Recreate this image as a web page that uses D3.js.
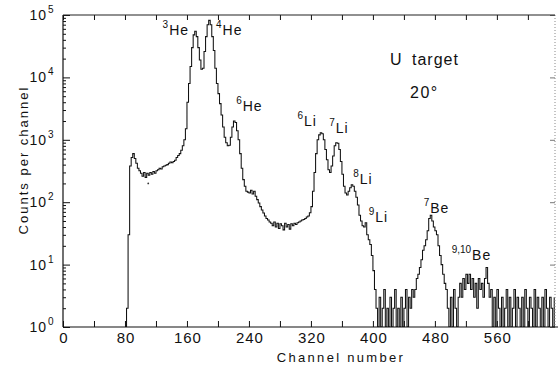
<!DOCTYPE html>
<html>
<head>
<meta charset="utf-8">
<script src="https://cdn.jsdelivr.net/npm/d3@7"></script>
<style>
  body { margin: 0; background: #fff; }
  svg text { font-family: "Liberation Sans", "DejaVu Sans", sans-serif; fill: #111; }
</style>
</head>
<body>
<svg id="chart" width="558" height="369"></svg>
<script>
// spectrum: counts per 2-channel bin, starting at channel 80
var chStart = 80, chStep = 2;
var counts = [
  0, 2, 30, 380, 520, 600, 500, 420, 350, 320,
  290, 260, 300, 250, 290, 270, 300, 280, 310, 290,
  320, 330, 350, 340, 370, 380, 390, 400, 420, 440,
  430, 450, 470, 520, 560, 600, 680, 800, 1000, 1500,
  4000, 8000, 15000, 30000, 48000, 55000, 45000, 30000, 19000, 13500,
  14000, 26000, 45000, 70000, 82000, 70000, 45000, 27000, 14000, 8000,
  5500, 3800, 2500, 1600, 1100, 900, 800, 820, 1100, 1600,
  2000, 1900, 1400, 1000, 600, 350, 230, 180, 150, 145,
  140, 155, 135, 150, 125, 110, 97, 85, 75, 67,
  60, 55, 52, 48, 46, 42, 48, 40, 46, 38,
  45, 42, 36, 46, 40, 44, 37, 45, 42, 46,
  44, 47, 48, 50, 52, 53, 55, 58, 60, 68,
  85, 150, 300, 600, 1000, 1200, 1300, 1250, 1000, 700,
  480, 330, 300, 380, 550, 800, 900, 880, 700, 450,
  280, 180, 140, 130, 150, 170, 190, 180, 150, 120,
  90, 62, 50, 42, 40, 47, 30, 25, 21, 14,
  8, 4, 2, 1, 3, 0, 2, 4, 1, 2,
  0, 3, 1, 2, 4, 0, 2, 1, 3, 0,
  2, 4, 1, 3, 2, 4, 3, 4, 6, 7,
  9, 12, 17, 20, 25, 35, 55, 62, 50, 40,
  35, 30, 20, 14, 10, 7, 5, 4, 2, 0,
  3, 1, 4, 2, 0, 3, 5, 3, 6, 4,
  7, 5, 7, 4, 6, 3, 5, 2, 6, 4,
  5, 3, 6, 9, 5, 3, 4, 1, 3, 0,
  4, 2, 1, 3, 0, 2, 4, 1, 3, 0,
  2, 4, 1, 3, 2, 0, 3, 1, 4, 2,
  0, 3, 2, 1, 4, 0, 3, 2, 1, 3,
  0, 4, 2, 1, 3, 2, 0, 3
];
// lone stray point below the spectrum
var strayCh = [110];
var strayCounts = [200];

// axes
var xTicks = [0, 40, 80, 120, 160, 200, 240, 280, 320, 360, 400, 440, 480, 520, 560, 600];
var xLabels = [0, 80, 160, 240, 320, 400, 480, 560];
var decades = [1, 10, 100, 1000, 10000, 100000];
var decadeExp = ["0", "1", "2", "3", "4", "5"];

// isotope labels (anchor: channel, counts at text baseline)
var isoMass = ["3", "4", "6", "6", "7", "8", "9", "7", "9,10"];
var isoName = ["He", "He", "He", "Li", "Li", "Li", "Li", "Be", "Be"];
var isoCh = [137, 206, 232, 311, 352, 383, 403, 474, 528];
var isoCount = [47900, 47900, 2900, 1660, 1290, 195, 48, 67, 11.8];

var svg = d3.select("#chart");
var pL = 63, pR = 555, pT = 15, pB = 327;

var x = d3.scaleLinear().domain([0, 635]).range([pL, pR]);
var y = d3.scaleLog().domain([1, 1e5]).range([pB, pT]);

svg.append("clipPath").attr("id", "clip")
    .append("rect")
    .attr("x", pL).attr("y", pT - 2)
    .attr("width", pR - pL).attr("height", pB - pT + 2);

// spectrum
var pts = counts.map(function (c, i) { return [chStart + i * chStep, c]; });
var line = d3.line()
    .x(function (d) { return x(d[0]); })
    .y(function (d) { return y(Math.max(d[1], 1)); })
    .curve(d3.curveStepAfter);

svg.append("path")
    .datum(pts)
    .attr("clip-path", "url(#clip)")
    .attr("fill", "none")
    .attr("stroke", "#111")
    .attr("stroke-width", 1.05)
    .attr("d", line);

svg.selectAll(".stray")
    .data(strayCh)
    .enter().append("circle")
    .attr("class", "stray")
    .attr("cx", function (d) { return x(d); })
    .attr("cy", function (d, i) { return y(strayCounts[i]); })
    .attr("r", 0.9)
    .attr("fill", "#333");

// minor y ticks
var minor = [];
decades.slice(0, 5).forEach(function (d) {
    for (var k = 2; k <= 9; k++) minor.push(d * k);
});

function styleAxis(g) {
    g.select(".domain").remove();
    g.selectAll(".tick line").attr("stroke", "#111").attr("stroke-width", 1);
}

// bottom axis
svg.append("g").attr("transform", "translate(0," + pB + ")")
    .call(d3.axisBottom(x).tickValues(xTicks).tickSize(-6).tickFormat(""))
    .call(styleAxis);

// top axis
svg.append("g").attr("transform", "translate(0," + pT + ")")
    .call(d3.axisTop(x).tickValues(xTicks).tickSize(-5).tickFormat(""))
    .call(styleAxis);

// left axis major + minor
svg.append("g").attr("transform", "translate(" + pL + ",0)")
    .call(d3.axisLeft(y).tickValues(decades).tickSize(-7).tickFormat(""))
    .call(styleAxis);
svg.append("g").attr("transform", "translate(" + pL + ",0)")
    .call(d3.axisLeft(y).tickValues(minor).tickSize(-3).tickFormat(""))
    .call(styleAxis);

// right axis (faint, dotted in the original)
var gr = svg.append("g").attr("transform", "translate(" + pR + ",0)")
    .call(d3.axisRight(y).tickValues(decades).tickSize(-5).tickFormat(""))
    .call(styleAxis);
gr.selectAll(".tick line").attr("stroke", "#777");
svg.append("line")
    .attr("x1", pR).attr("x2", pR).attr("y1", pT).attr("y2", pB)
    .attr("stroke", "#888").attr("stroke-width", 1).attr("stroke-dasharray", "1,2");

// frame lines
svg.append("line").attr("x1", pL).attr("x2", 558).attr("y1", pB).attr("y2", pB)
    .attr("stroke", "#111").attr("stroke-width", 1.2);
svg.append("line").attr("x1", pL).attr("x2", pR).attr("y1", pT).attr("y2", pT)
    .attr("stroke", "#222").attr("stroke-width", 1.1);
svg.append("line").attr("x1", pL).attr("x2", pL).attr("y1", pT).attr("y2", pB)
    .attr("stroke", "#111").attr("stroke-width", 1.2);

// x tick labels
svg.selectAll(".xlab")
    .data(xLabels)
    .enter().append("text")
    .attr("class", "xlab")
    .attr("x", function (d) { return x(d) + 1; })
    .attr("y", pB + 16)
    .attr("text-anchor", "middle")
    .attr("font-size", 15)
    .attr("letter-spacing", 1)
    .text(function (d) { return d; });

// y tick labels: 10 with superscript exponent
var ylab = svg.selectAll(".ylab")
    .data(decades)
    .enter().append("g")
    .attr("class", "ylab")
    .attr("transform", function (d) { return "translate(" + 47 + "," + (y(d) + 5) + ")"; });
ylab.append("text")
    .attr("text-anchor", "end")
    .attr("font-size", 14)
    .attr("letter-spacing", 1)
    .text("10");
ylab.append("text")
    .attr("x", 1)
    .attr("y", -7)
    .attr("font-size", 10)
    .text(function (d, i) { return decadeExp[i]; });

// axis titles
svg.append("text")
    .attr("x", 341).attr("y", 362)
    .attr("text-anchor", "middle")
    .attr("font-size", 13)
    .attr("letter-spacing", 2.3)
    .text("Channel number");

svg.append("text")
    .attr("transform", "translate(28,160) rotate(-90)")
    .attr("text-anchor", "middle")
    .attr("font-size", 13)
    .attr("letter-spacing", 2)
    .text("Counts per channel");

// isotope labels
var iso = svg.selectAll(".iso")
    .data(isoName)
    .enter().append("g")
    .attr("class", "iso")
    .attr("transform", function (d, i) { return "translate(" + x(isoCh[i]) + "," + y(isoCount[i]) + ")"; });
iso.append("text")
    .attr("font-size", 14)
    .attr("letter-spacing", 1)
    .text(function (d) { return d; });
iso.append("text")
    .attr("x", -1)
    .attr("y", -7)
    .attr("text-anchor", "end")
    .attr("font-size", 10)
    .text(function (d, i) { return isoMass[i]; });

// target annotation
svg.append("text")
    .attr("x", 390).attr("y", 65)
    .attr("font-size", 16)
    .attr("letter-spacing", 1)
    .text("U");
svg.append("text")
    .attr("x", 412).attr("y", 65)
    .attr("font-size", 16)
    .attr("letter-spacing", 1)
    .text("target");
svg.append("text")
    .attr("x", 410).attr("y", 98)
    .attr("font-size", 16)
    .attr("letter-spacing", 1.5)
    .text("20°");
</script>
</body>
</html>
